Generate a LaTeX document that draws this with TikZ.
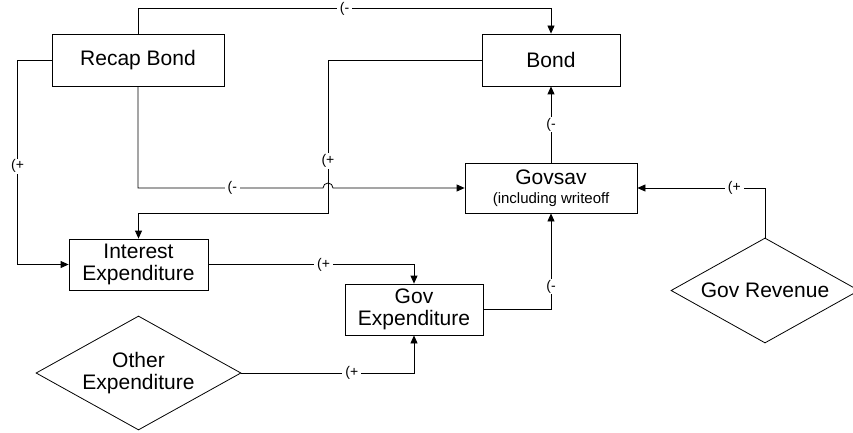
\documentclass[tikz,border=0pt]{standalone}
\usepackage{fontspec}
\setmainfont{Liberation Sans}
\usetikzlibrary{arrows.meta,shapes.geometric}

\begin{document}
\begin{tikzpicture}
      [%%%%%%%%%%%%%%%%%%%%%%%%%%%%%%
          x=1pt, y=1pt,
          box/.style={rectangle,draw=black,line width=0.8pt,inner sep=0pt,align=center,
                      font=\fontsize{21}{22}\selectfont},
          dia/.style={diamond,draw=black,line width=0.8pt,inner sep=0pt,aspect=1.8,align=center,
                      font=\fontsize{21}{22}\selectfont},
          link/.style={line width=0.8pt,-{Triangle[length=8pt,width=7pt]}},
          sgn/.style={fill=white,inner xsep=3pt,inner ysep=1pt,font=\fontsize{14}{15}\selectfont}
      ]%%%%%%%%%%%%%%%%%%%%%%%%%%%%%%

  \useasboundingbox (0,0) rectangle (853,432);

  % stocks and flows
  \node[box,minimum width=172pt,minimum height=52pt] (recap) at (138,372) {Recap Bond};
  \node[box,minimum width=138pt,minimum height=52pt] (bond) at (551,372) {Bond};
  \node[box,minimum width=172pt,minimum height=50pt] (govsav) at (551,244)
       {Govsav\\[-3pt]{\fontsize{15}{16}\selectfont (including writeoff}};
  \node[box,minimum width=139pt,minimum height=51pt] (interest) at (138.5,167.5) {Interest\\Expenditure};
  \node[box,minimum width=138pt,minimum height=51pt] (govexp) at (414,122.5) {Gov\\Expenditure};

  % exogenous inputs
  \node[dia,minimum width=205pt,minimum height=114pt] (other) at (138.5,59) {Other\\Expenditure};
  \node[dia,minimum width=188pt,minimum height=105pt] (revenue) at (765,141.5) {Gov Revenue};

  \coordinate (jmp) at (328,244);

  \draw[link] (recap.north) -- ++(0,25) -| node[sgn,pos=0.25]{(-} (bond.north);
  \draw[link] (recap.west) -- ++(-34,0) |- node[sgn,pos=0.26]{(+} (interest.west);
  \draw[link] (recap.south) |- node[sgn,pos=0.755]{(-} ([xshift=-5pt]jmp)
        arc[start angle=180,end angle=0,radius=5pt] -- (govsav.west);
  \draw[link] (bond.west) -| node[sgn,pos=0.83]{(+} ([yshift=-25pt]jmp) -| (interest.north);
  \draw[link] (govsav.north) -- node[sgn]{(-} (bond.south);
  \draw[link] (revenue.north) |- node[sgn,pos=0.62]{(+} (govsav.east);
  \draw[link] (interest.east) -| node[sgn,pos=0.28]{(+} (govexp.north);
  \draw[link] (other.east) -| node[sgn,pos=0.32]{(+} (govexp.south);
  \draw[link] (govexp.east) -| node[sgn,pos=0.62]{(-} (govsav.south);

\end{tikzpicture}
\end{document}
